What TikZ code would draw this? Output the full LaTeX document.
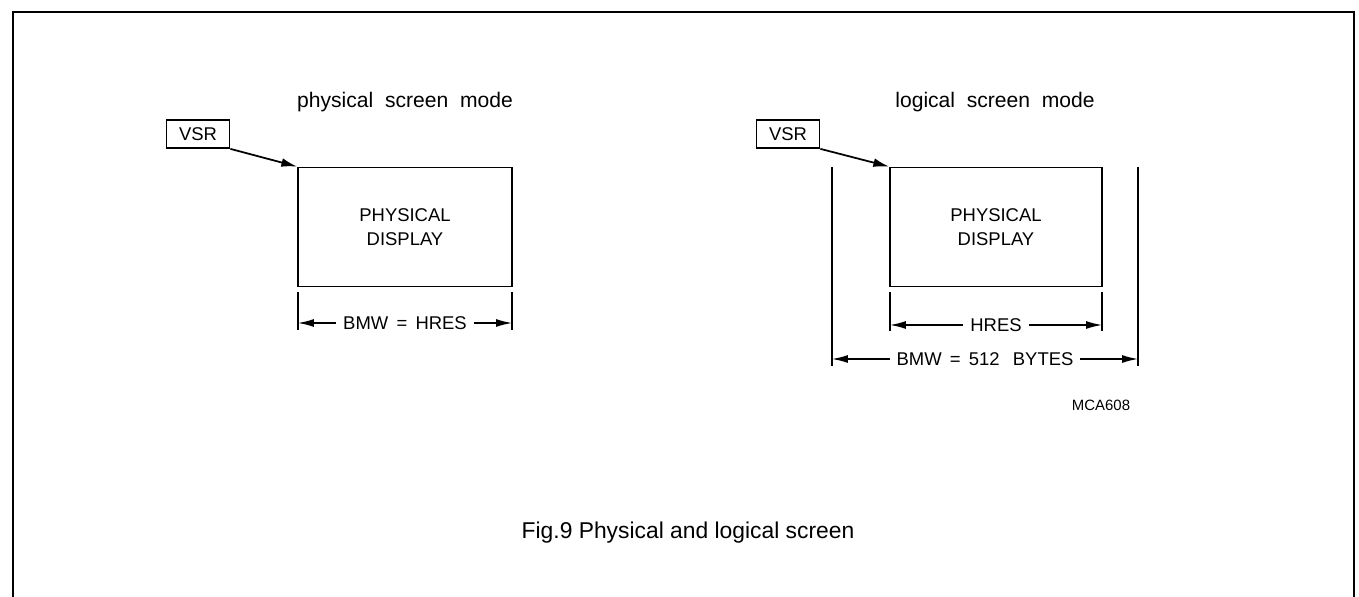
\documentclass[tikz,border=0pt]{standalone}
\usepackage{fontspec}
\setmainfont{Liberation Sans}
\usetikzlibrary{arrows.meta, positioning}

\begin{document}
\begin{tikzpicture}[x=0.02cm, y=-0.02cm, line width=1pt,
  tip/.style={-{Latex[length=9pt,width=5pt]}},
  dimline/.style={{Latex[length=9pt,width=4.5pt]}-{Latex[length=9pt,width=4.5pt]}, line width=0.8pt},
  dimtext/.style={fill=white, inner sep=4pt, font=\fontsize{10.5}{12}\selectfont},
  vsrbox/.style={draw, minimum width=1.26cm, minimum height=0.56cm, inner sep=0pt,
    font=\fontsize{10.5}{12}\selectfont},
  screen/.style={draw, minimum height=2.38cm, inner sep=0pt, align=center,
    font=\fontsize{10.5}{14}\selectfont},
  modetitle/.style={font=\fontsize{12}{14}\selectfont}]

  \useasboundingbox (0,0) rectangle (1359,597);

  % Frame (open at the bottom)
  \draw (13,597) -- (13,12) -- (1354,12) -- (1354,597);

  % Physical screen mode
  \node[modetitle] (ptitle) at (405,102) {physical\ \ screen\ \ mode};
  \node[vsrbox] (pvsr) at (198,134) {VSR};
  \node[screen, minimum width=4.28cm] (pdisp) at (405,227) {PHYSICAL\\DISPLAY};
  \draw[tip] (pvsr.south east) -- (pdisp.north west);

  % Width of the physical display
  \draw[line width=0.8pt] (298,292) -- (298,330);
  \draw[line width=0.8pt] (512,292) -- (512,330);
  \coordinate (pbl) at (298,323);
  \coordinate (pbr) at (512,323);
  \draw[dimline] (pbl) -- (pbr) node[midway, dimtext] {BMW\ \,=\ \,HRES};

  % Logical screen mode
  \node[modetitle] (ltitle) at (995,102) {logical\ \ screen\ \ mode};
  \node[vsrbox] (lvsr) at (788,134) {VSR};
  \node[screen, minimum width=4.24cm] (ldisp) at (996,227) {PHYSICAL\\DISPLAY};
  \draw[tip] (lvsr.south east) -- (ldisp.north west);

  % HRES and BMW
  \draw[line width=0.8pt] (890,292) -- (890,331);
  \draw[line width=0.8pt] (1102,292) -- (1102,331);
  \draw[line width=0.8pt] (832,167) -- (832,366);
  \draw[line width=0.8pt] (1138,167) -- (1138,366);
  \coordinate (hl) at (890,325);
  \coordinate (hr) at (1102,325);
  \draw[dimline] (hl) -- (hr) node[midway, dimtext] {HRES};
  \coordinate (bl) at (832,359);
  \coordinate (br) at (1138,359);
  \draw[dimline] (bl) -- (br) node[midway, dimtext] {BMW\ \,=\ \,512\ \ \,BYTES};

  \node[font=\fontsize{8.5}{10}\selectfont] (code) at (1101,405) {MCA608};

  % Caption
  \node[font=\fontsize{13}{15}\selectfont] (caption) at (688,533) {Fig.9 Physical and logical screen};

\end{tikzpicture}
\end{document}
